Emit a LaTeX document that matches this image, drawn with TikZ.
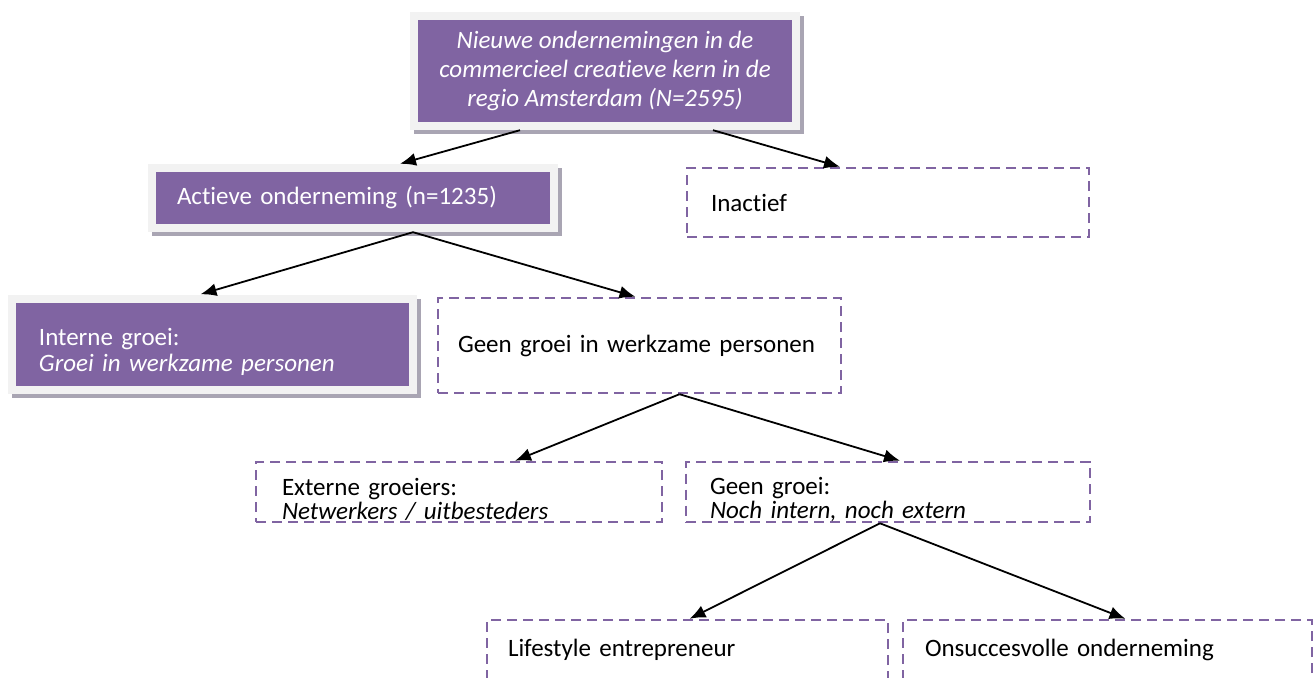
\documentclass[tikz,border=0pt]{standalone}
\usepackage{fontspec}
\setmainfont{Carlito}[Ligatures=NoCommon]
\usetikzlibrary{arrows.meta,shadows,calc}

\definecolor{boxpurple}{HTML}{8064A2}
\definecolor{framegray}{HTML}{F2F2F2}
\definecolor{shadowgray}{HTML}{A9A5B3}

\newcommand{\firstlinedrop}{\rule{0pt}{33pt}}

\tikzset{
  framed/.style={
    fill=framegray, draw=none, inner sep=0pt,
    drop shadow={shadow xshift=4pt, shadow yshift=-4pt, fill=shadowgray, opacity=1},
    path picture={\fill[boxpurple]
      ([shift={(8pt,8pt)}]path picture bounding box.south west) rectangle
      ([shift={(-8pt,-8pt)}]path picture bounding box.north east);},
    text=white, font=\fontsize{25}{26}\selectfont
  },
  dashbox/.style={
    draw=boxpurple, line width=2.4pt, dash pattern=on 10pt off 6pt,
    inner sep=0pt, font=\fontsize{25}{24}\selectfont, text=black
  },
  link/.style={line width=1.8pt, -{Latex[length=16pt,width=13pt]}}
}

\begin{document}
\begin{tikzpicture}[x=1pt,y=-1pt]
\useasboundingbox (0,0) rectangle (1316,677);
\clip (0,0) rectangle (1316,677);

% purple framed boxes
\node[framed, minimum width=390pt, minimum height=118pt, align=center,
      font=\fontsize{25}{29}\selectfont\itshape] (top) at (605,71)
  {Nieuwe ondernemingen in de\\commercieel creatieve kern in de\\regio Amsterdam (N=2595)};
\node[framed, minimum width=410pt, minimum height=68pt,
      text width=410pt, align=left] (active) at (353,198)
  {\hspace*{29pt}Actieve onderneming (n=1235)};
\node[framed, minimum width=409pt, minimum height=99pt,
      text width=409pt, align=left] (intern) at (212.5,344)
  {\firstlinedrop\hspace*{31pt}Interne groei:\\\hspace*{31pt}\textit{Groei in werkzame personen}};

% dashed boxes
\node[dashbox, minimum width=402pt, minimum height=69pt,
      text width=402pt, align=left] (inactive) at (888,202.5)
  {\hspace*{24pt}Inactief};
\node[dashbox, minimum width=403pt, minimum height=95pt,
      text width=403pt, align=left] (nogrowth) at (639.5,345.5)
  {\hspace*{20pt}Geen groei in werkzame personen};
\node[dashbox, minimum width=406pt, minimum height=60pt,
      text width=406pt, align=left] (extern) at (459,492)
  {\firstlinedrop\hspace*{26pt}Externe groeiers:\\\hspace*{26pt}\textit{Netwerkers / uitbesteders}};
\node[dashbox, minimum width=404pt, minimum height=60pt,
      text width=404pt, align=left] (none) at (888,492)
  {\firstlinedrop\hspace*{24pt}Geen groei:\\\hspace*{24pt}\textit{Noch intern, noch extern}};
\node[dashbox, minimum width=401pt, minimum height=60pt,
      text width=401pt, align=left] (lifestyle) at (687.5,650)
  {\hspace*{21pt}Lifestyle entrepreneur};
\node[dashbox, minimum width=409pt, minimum height=60pt,
      text width=409pt, align=left] (failed) at (1107.5,650)
  {\hspace*{22pt}Onsuccesvolle onderneming};

% connectors
\draw[link] ([xshift=-85pt]top.south) -- ([xshift=47pt]active.north);
\draw[link] ([xshift=108pt]top.south) -- ([xshift=-48pt]inactive.north);
\draw[link] ([xshift=60pt]active.south) -- ([xshift=-12pt]intern.north);
\draw[link] ([xshift=60pt]active.south) -- ([xshift=-4pt]nogrowth.north);
\draw[link] ([xshift=40pt]nogrowth.south) -- ([xshift=56pt]extern.north);
\draw[link] ([xshift=40pt]nogrowth.south) -- ([xshift=12pt]none.north);
\draw[link] ([xshift=-8pt]none.south) -- ([xshift=2pt]lifestyle.north);
\draw[link] ([xshift=-8pt]none.south) -- ([xshift=18pt]failed.north);
\end{tikzpicture}
\end{document}
